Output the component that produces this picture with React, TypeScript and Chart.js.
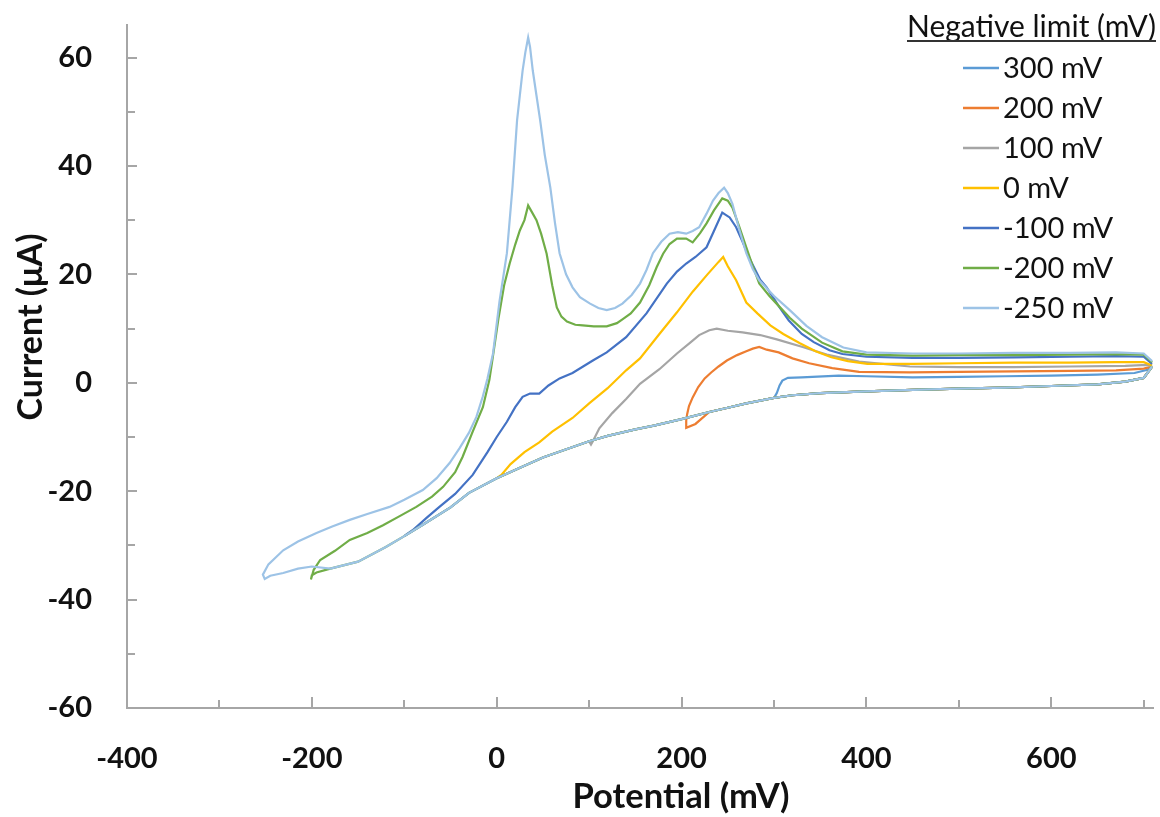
import React, { useEffect, useRef } from 'react';
import { Chart, registerables } from 'chart.js';

Chart.register(...registerables);

const seriesLabels = ['300 mV', '200 mV', '100 mV', '0 mV', '-100 mV', '-200 mV', '-250 mV'];
const seriesColors = ['#5B9BD5', '#ED7D31', '#A5A5A5', '#FFC000', '#4472C4', '#70AD47', '#9DC3E6'];
const negativeLimits = [300, 230, 100, 0, -100, -180, -180];

const xMajorTicks = [-400, -200, 0, 200, 400, 600];
const xMinorTicks = [-300, -100, 100, 300, 500, 700];
const yMajorTicks = [-60, -40, -20, 0, 20, 40, 60];
const yMinorTicks = [-50, -30, -10, 10, 30, 50];

const legendTitle = 'Negative limit (mV)';
const xTitle = 'Potential (mV)';
const yTitle = 'Current (\u03BCA)';

// shared cathodic sweep, from the positive end downwards
const cathodic: [number, number][] = [
  [709, 3.0], [700, 0.9], [680, 0.2], [650, -0.3], [600, -0.6], [550, -0.9], [500, -1.1],
  [450, -1.3], [400, -1.6], [350, -1.9], [320, -2.3], [300, -2.8], [270, -3.8], [250, -4.6],
  [230, -5.4], [200, -6.7], [170, -7.9], [150, -8.6], [120, -9.8], [100, -10.8], [80, -12.0],
  [50, -13.8], [30, -15.3], [0, -17.6], [-30, -20.3], [-50, -23.0], [-80, -26.2], [-100, -28.3],
  [-120, -30.3], [-150, -33.0], [-180, -34.3],
];

// turning-point segments specific to each run
const turn300: [number, number][] = [];
const turn200: [number, number][] = [[215, -7.6], [205, -8.3]];
const turn100: [number, number][] = [];
const turn0: [number, number][] = [];
const turnM100: [number, number][] = [];
const turnM200: [number, number][] = [[-195, -35.0], [-200, -35.5], [-201, -36.3]];
const turnM250: [number, number][] = [
  [-200, -33.9], [-215, -34.3], [-231, -35.1], [-245, -35.6], [-251, -36.2], [-253, -35.4],
];

// anodic (return) sweeps
const anodic300: [number, number][] = [
  [303, -1.9], [306, -0.5], [309, 0.4], [315, 0.9], [330, 1.0], [370, 1.3], [400, 1.2],
  [450, 1.0], [500, 1.1], [550, 1.2], [600, 1.3], [650, 1.5], [690, 1.8], [704, 2.4], [709, 3.0],
];
const anodic200: [number, number][] = [
  [205, -7.0], [206, -5.8], [208, -4.3], [212, -2.7], [218, -0.8], [225, 0.8], [232, 1.9],
  [240, 3.0], [249, 4.1], [260, 5.1], [270, 5.8], [277, 6.3], [284, 6.6], [292, 6.1],
  [305, 5.6], [320, 4.5], [338, 3.6], [363, 2.7], [392, 2.0], [447, 1.9], [500, 2.0],
  [560, 2.1], [620, 2.2], [670, 2.3], [700, 2.6], [709, 3.0],
];
const anodic100: [number, number][] = [
  [102, -11.4], [104, -10.8], [111, -8.4], [125, -5.6], [140, -3.0], [155, -0.2], [176, 2.5],
  [195, 5.4], [210, 7.5], [219, 8.8], [230, 9.7], [238, 10.0], [250, 9.6], [266, 9.3],
  [285, 8.8], [303, 8.0], [331, 6.6], [357, 5.2], [392, 3.9], [447, 3.0], [500, 2.9],
  [560, 2.9], [620, 3.0], [680, 3.1], [704, 3.3], [709, 3.0],
];
const anodic0: [number, number][] = [
  [5, -17.0], [15, -15.0], [30, -12.8], [46, -11.0], [60, -9.0], [82, -6.5], [100, -3.8],
  [120, -1.0], [140, 2.3], [155, 4.5], [176, 9.0], [195, 13.0], [212, 16.8], [228, 20.0],
  [240, 22.3], [245, 23.2], [250, 21.5], [259, 18.9], [270, 14.8], [282, 12.8], [296, 10.6],
  [310, 9.0], [328, 7.3], [345, 5.8], [362, 4.7], [380, 4.0], [401, 3.5], [450, 3.5],
  [500, 3.6], [560, 3.7], [620, 3.7], [670, 3.8], [700, 3.8], [709, 3.2],
];
const anodicM100: [number, number][] = [
  [-98, -28.0], [-91, -27.2], [-75, -24.8], [-62, -22.9], [-45, -20.5], [-26, -17.0],
  [-10, -12.8], [0, -10.0], [11, -7.2], [20, -4.5], [28, -2.6], [36, -2.0], [46, -2.0],
  [56, -0.5], [68, 0.8], [82, 1.8], [104, 4.1], [119, 5.6], [140, 8.4], [162, 12.8],
  [184, 18.3], [195, 20.5], [205, 22.0], [215, 23.2], [227, 25.0], [235, 28.0], [244, 31.4],
  [252, 30.5], [259, 28.7], [266, 26.0], [273, 23.1], [285, 19.0], [292, 17.6], [306, 13.9],
  [316, 11.5], [330, 9.0], [343, 7.5], [360, 6.0], [374, 5.3], [400, 4.8], [450, 4.6],
  [500, 4.6], [560, 4.7], [620, 4.8], [670, 4.9], [700, 4.8], [709, 3.5],
];
const anodicM200: [number, number][] = [
  [-198, -34.5], [-191, -32.7], [-175, -31.0], [-159, -29.0], [-140, -27.7], [-123, -26.3],
  [-105, -24.6], [-87, -22.9], [-70, -21.0], [-58, -19.2], [-45, -16.5], [-37, -13.7],
  [-26, -9.0], [-15, -4.5], [-8, 0.5], [-4, 5.0], [2, 12.0], [8, 18.0], [14, 22.0],
  [20, 25.5], [25, 28.1], [30, 30.0], [34, 32.7], [37, 31.8], [43, 30.0], [48, 27.5],
  [54, 23.8], [60, 18.0], [65, 13.9], [70, 12.2], [76, 11.3], [85, 10.7], [93, 10.6],
  [105, 10.4], [119, 10.4], [130, 11.0], [136, 11.7], [145, 12.8], [155, 14.8], [165, 18.0],
  [173, 21.3], [180, 23.8], [187, 25.6], [195, 26.6], [205, 26.6], [212, 25.9], [220, 27.6],
  [227, 29.4], [235, 31.8], [244, 34.0], [250, 33.6], [255, 32.3], [262, 29.0], [270, 25.0],
  [277, 21.5], [284, 18.3], [295, 16.0], [306, 14.0], [317, 12.0], [330, 10.0], [352, 7.4],
  [374, 5.8], [400, 5.2], [450, 5.0], [500, 5.1], [560, 5.1], [620, 5.2], [670, 5.3],
  [700, 5.2], [709, 3.8],
];
const anodicM250: [number, number][] = [
  [-247, -33.5], [-231, -30.9], [-215, -29.3], [-195, -27.7], [-178, -26.5], [-159, -25.3],
  [-140, -24.2], [-116, -22.9], [-100, -21.6], [-80, -19.8], [-65, -17.6], [-51, -14.8],
  [-40, -12.0], [-30, -9.2], [-22, -6.3], [-15, -2.5], [-10, 0.8], [-4, 5.4], [3, 15.0],
  [11, 23.9], [17, 36.0], [22, 48.4], [25, 53.0], [28, 57.6], [31, 61.0], [34, 63.7],
  [36, 62.0], [39, 57.6], [43, 53.0], [47, 48.4], [52, 42.0], [58, 36.0], [63, 29.5],
  [68, 23.9], [75, 20.0], [82, 17.6], [90, 15.8], [101, 14.6], [110, 13.8], [119, 13.4],
  [128, 13.8], [136, 14.6], [146, 16.2], [155, 18.3], [162, 20.8], [169, 23.9], [178, 26.0],
  [187, 27.5], [196, 27.8], [205, 27.5], [212, 28.0], [219, 28.7], [227, 31.2], [234, 33.6],
  [240, 35.0], [246, 36.0], [250, 35.0], [255, 33.0], [262, 28.5], [270, 23.9], [277, 21.0],
  [284, 18.9], [300, 16.0], [317, 13.4], [335, 10.5], [352, 8.4], [375, 6.5], [400, 5.6],
  [450, 5.4], [500, 5.4], [560, 5.5], [620, 5.5], [670, 5.6], [700, 5.4], [709, 4.0],
];

const turns = [turn300, turn200, turn100, turn0, turnM100, turnM200, turnM250];
const anodics = [anodic300, anodic200, anodic100, anodic0, anodicM100, anodicM200, anodicM250];

const AXIS_COLOR = '#A6A6A6';
const TEXT_COLOR = '#111111';
const FONT = 'Lato, "Open Sans", sans-serif';

function buildLoop(i: number) {
  const pts = cathodic.filter((p) => p[0] >= negativeLimits[i]).concat(turns[i], anodics[i]);
  return pts.map((p) => ({ x: p[0], y: p[1] }));
}

function fitFont(ctx: CanvasRenderingContext2D, text: string, weight: string, base: number, target: number) {
  ctx.font = `${weight} ${base}px ${FONT}`;
  const w = ctx.measureText(text).width;
  const size = (base * target) / w;
  ctx.font = `${weight} ${size}px ${FONT}`;
  return size;
}

const overlayPlugin = {
  id: 'overlay',
  afterDraw(chart: any) {
    const ctx: CanvasRenderingContext2D = chart.ctx;
    const xs = chart.scales.x;
    const ys = chart.scales.y;
    const { left, bottom } = chart.chartArea;
    ctx.save();
    // inward tick marks
    ctx.strokeStyle = AXIS_COLOR;
    ctx.lineWidth = 2;
    const vTick = (v: number, len: number) => {
      const p = Math.round(ys.getPixelForValue(v));
      ctx.beginPath();
      ctx.moveTo(left, p);
      ctx.lineTo(left + len, p);
      ctx.stroke();
    };
    const hTick = (v: number, len: number) => {
      const p = Math.round(xs.getPixelForValue(v));
      ctx.beginPath();
      ctx.moveTo(p, bottom);
      ctx.lineTo(p, bottom - len);
      ctx.stroke();
    };
    yMajorTicks.forEach((v) => vTick(v, 10));
    yMinorTicks.forEach((v) => vTick(v, 8));
    xMajorTicks.forEach((v) => hTick(v, 11));
    xMinorTicks.forEach((v) => hTick(v, 8));

    // axis titles
    ctx.fillStyle = TEXT_COLOR;
    ctx.textBaseline = 'middle';
    ctx.textAlign = 'center';
    fitFont(ctx, xTitle, 'bold', 30, 217);
    ctx.fillText(xTitle, 681, 797);
    ctx.save();
    ctx.translate(31, 327);
    ctx.rotate(-Math.PI / 2);
    fitFont(ctx, yTitle, 'bold', 30, 187);
    ctx.fillText(yTitle, 0, 0);
    ctx.restore();

    // legend
    ctx.textAlign = 'right';
    fitFont(ctx, legendTitle, 'normal', 28, 249);
    ctx.fillText(legendTitle, 1156, 27);
    ctx.strokeStyle = '#333333';
    ctx.lineWidth = 2;
    ctx.beginPath();
    ctx.moveTo(907, 41);
    ctx.lineTo(1156, 41);
    ctx.stroke();
    ctx.textAlign = 'left';
    ctx.font = `normal 29px ${FONT}`;
    seriesLabels.forEach((lab, i) => {
      const y = 68 + i * 40;
      ctx.strokeStyle = seriesColors[i];
      ctx.lineWidth = 2.5;
      ctx.beginPath();
      ctx.moveTo(963, y);
      ctx.lineTo(999, y);
      ctx.stroke();
      ctx.fillStyle = TEXT_COLOR;
      ctx.fillText(lab, 1003, y + 1);
    });
    ctx.restore();
  },
};

export default function App() {
  const canvasRef = useRef<HTMLCanvasElement | null>(null);

  useEffect(() => {
    const canvas = canvasRef.current;
    if (!canvas) return;
    const datasets = seriesLabels.map((label, i) => ({
      label,
      data: buildLoop(i),
      borderColor: seriesColors[i],
      backgroundColor: seriesColors[i],
      borderWidth: 2.2,
      pointRadius: 0,
      showLine: true,
      tension: 0,
      fill: false,
      order: seriesLabels.length - 1 - i,
    }));
    const tickFont = { family: FONT, weight: 'bold' as const, size: 29, lineHeight: 1.2 };
    const chart = new Chart(canvas, {
      type: 'scatter',
      data: { datasets },
      options: {
        animation: false,
        responsive: false,
        maintainAspectRatio: false,
        layout: { padding: { top: 25, right: 7, left: 0, bottom: 0 } },
        plugins: { legend: { display: false }, tooltip: { enabled: false } },
        scales: {
          x: {
            type: 'linear',
            min: -400,
            max: 710,
            grid: { display: false },
            border: { display: true, color: AXIS_COLOR, width: 2 },
            ticks: { font: tickFont, color: TEXT_COLOR, padding: 25, maxRotation: 0, autoSkip: false },
            afterBuildTicks: (s: any) => {
              s.ticks = xMajorTicks.map((value) => ({ value }));
            },
            afterFit: (s: any) => {
              s.height = 109;
              s.paddingLeft = 0;
              s.paddingRight = 0;
            },
          },
          y: {
            type: 'linear',
            min: -60,
            max: 66,
            grid: { display: false },
            border: { display: true, color: AXIS_COLOR, width: 2 },
            ticks: { font: tickFont, color: TEXT_COLOR, padding: 27, autoSkip: false },
            afterBuildTicks: (s: any) => {
              s.ticks = yMajorTicks.map((value) => ({ value }));
            },
            afterFit: (s: any) => {
              s.width = 127;
              s.paddingTop = 0;
              s.paddingBottom = 0;
            },
          },
        },
      },
      plugins: [overlayPlugin],
    });
    return () => chart.destroy();
  }, []);

  return (
    <div style={{ position: 'fixed', left: 0, top: 0, width: 1160, height: 817, background: '#fff' }}>
      <canvas ref={canvasRef} width={1160} height={817} style={{ display: 'block' }} />
    </div>
  );
}
